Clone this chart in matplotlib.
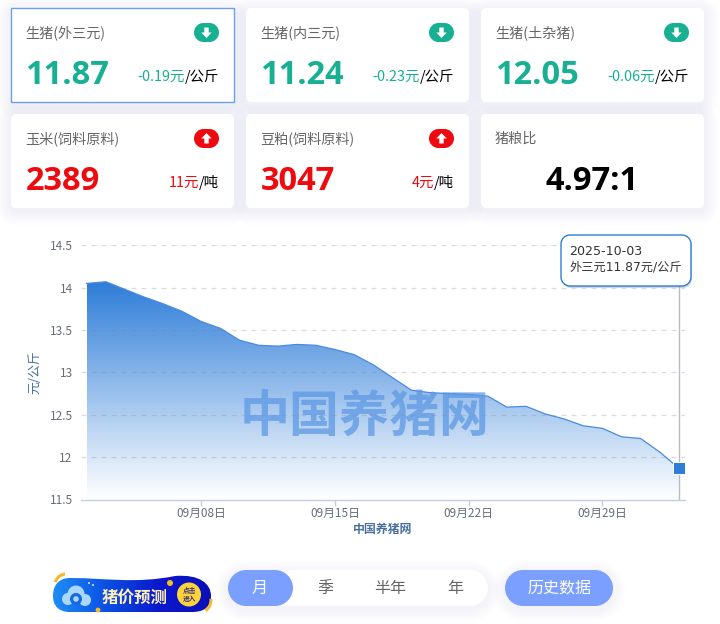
import matplotlib

matplotlib.use("Agg")
import matplotlib.pyplot as plt
import numpy as np
from matplotlib.colors import LinearSegmentedColormap
from matplotlib.patches import Arc, Circle, PathPatch, Polygon
from matplotlib.path import Path

plt.rcParams["font.family"] = ["Noto Sans CJK SC", "DejaVu Sans"]

W, H = 720, 624

# cards
card_titles = ["生猪(外三元)", "生猪(内三元)", "生猪(土杂猪)", "玉米(饲料原料)", "豆粕(饲料原料)", "猪粮比"]
card_values = ["11.87", "11.24", "12.05", "2389", "3047", "4.97:1"]
card_changes = ["-0.19元", "-0.23元", "-0.06元", "11元", "4元", ""]
card_units = ["/公斤", "/公斤", "/公斤", "/吨", "/吨", ""]
card_dirs = ["down", "down", "down", "up", "up", ""]

# chart
day_index = list(range(32))
prices = [
    14.05, 14.07, 13.98, 13.89, 13.81, 13.72, 13.60, 13.52,
    13.38, 13.32, 13.31, 13.33, 13.32, 13.27, 13.21, 13.09,
    12.94, 12.79, 12.76, 12.75, 12.74, 12.72, 12.59, 12.60,
    12.51, 12.45, 12.37, 12.34, 12.24, 12.22, 12.06, 11.87,
]
y_ticks = [11.5, 12, 12.5, 13, 13.5, 14, 14.5]
y_tick_labels = ["11.5", "12", "12.5", "13", "13.5", "14", "14.5"]
x_ticks = [6, 13, 20, 27]
x_tick_labels = ["09月08日", "09月15日", "09月22日", "09月29日"]

# bottom controls
period_labels = ["月", "季", "半年", "年"]
period_centers = [260, 325, 390, 455]

GREEN = "#17b092"
RED = "#ee0a0e"
BLUE = "#2e7dd9"
PILL = "#7b9fff"
GOLD = "#f5b92e"
DIGITS = ["Open Sans", "Noto Sans CJK SC"]
LATIN_FIRST = ["DejaVu Sans", "Noto Sans CJK SC"]


def rounded(ax, x0, y0, x1, y1, r, **kwargs):
    k = 0.5523 * r
    verts = [
        (x0 + r, y0), (x1 - r, y0),
        (x1 - r + k, y0), (x1, y0 + r - k), (x1, y0 + r),
        (x1, y1 - r),
        (x1, y1 - r + k), (x1 - r + k, y1), (x1 - r, y1),
        (x0 + r, y1),
        (x0 + r - k, y1), (x0, y1 - r + k), (x0, y1 - r),
        (x0, y0 + r),
        (x0, y0 + r - k), (x0 + r - k, y0), (x0 + r, y0),
    ]
    codes = [Path.MOVETO, Path.LINETO] + [Path.CURVE4] * 3 + [Path.LINETO] + [Path.CURVE4] * 3
    codes += [Path.LINETO] + [Path.CURVE4] * 3 + [Path.LINETO] + [Path.CURVE4] * 3
    patch = PathPatch(Path(verts, codes), **kwargs)
    ax.add_patch(patch)
    return patch


def soft_shadow(ax, x0, y0, x1, y1, r, spread=14, alpha=0.012):
    for s in range(spread, 0, -2):
        rounded(ax, x0 - s, y0 - s + 3, x1 + s, y1 + s + 3, r + s,
                facecolor="#7f90c0", edgecolor="none", alpha=alpha)


def draw_icon(ax, cx, cy, direction):
    color = GREEN if direction == "down" else RED
    rounded(ax, cx - 12.5, cy - 9.5, cx + 12.5, cy + 9.5, 9.5, facecolor=color, edgecolor="none")
    sign = 1 if direction == "down" else -1
    arrow = [
        (cx - 2.2, cy - 5 * sign), (cx + 2.2, cy - 5 * sign), (cx + 2.2, cy),
        (cx + 5.2, cy), (cx, cy + 5.5 * sign), (cx - 5.2, cy), (cx - 2.2, cy),
    ]
    ax.add_patch(Polygon(arrow, closed=True, facecolor="white", edgecolor="none"))


def draw_card(ax, renderer, x0, y0, idx):
    x1, y1 = x0 + 223, y0 + 94
    selected = idx == 0
    if selected:
        ax.add_patch(plt.Rectangle((x0, y0), 223, 94, facecolor="white", edgecolor="#6d9fe8", linewidth=1))
    else:
        rounded(ax, x0, y0, x1, y1, 5, facecolor="white", edgecolor="none")
    ax.text(x0 + 14, y0 + 25, card_titles[idx], fontsize=10.2, color="#666666", va="center", ha="left")

    direction = card_dirs[idx]
    if direction:
        draw_icon(ax, x0 + 195.5, y0 + 24.5, direction)
        color = GREEN if direction == "down" else RED
        ax.text(x0 + 14.5, y0 + 76.4, card_values[idx], fontsize=23.5, fontweight="bold",
                family=DIGITS, color=color, va="baseline", ha="left")
        unit = ax.text(x1 - 15, y0 + 69, card_units[idx], fontsize=10.4, color="black", va="center", ha="right")
        left = unit.get_window_extent(renderer).x0
        ax.text(left, y0 + 69, card_changes[idx], fontsize=10.4, color=color, va="center", ha="right")
    else:
        ax.text((x0 + x1) / 2, y0 + 76.4, card_values[idx], fontsize=23.5, fontweight="bold",
                family=DIGITS, color="black", va="baseline", ha="center")


def draw_banner(ax):
    x0, y0, x1, y1 = 53, 575, 211, 612
    cmap = LinearSegmentedColormap.from_list("banner", ["#1f8df5", "#0b50e4", "#0a18cc", "#0a0fb8"])
    img = ax.imshow(np.linspace(0, 1, 200).reshape(1, -1), extent=(x0, x1, y1, y0),
                    cmap=cmap, aspect="auto", zorder=3)
    outline = Path(
        [(53, 596), (53, 584), (60, 578), (70, 578),
         (105, 578), (135, 584), (175, 576),
         (200, 574), (211, 584), (211, 596),
         (211, 607), (204, 612), (192, 612),
         (150, 612), (110, 612), (70, 612),
         (59, 612), (53, 606), (53, 596)],
        [Path.MOVETO] + [Path.CURVE4] * 18,
    )
    clip = PathPatch(outline, facecolor="none", edgecolor="none", transform=ax.transData, zorder=3)
    ax.add_patch(clip)
    img.set_clip_path(clip)
    # cloud logo
    for cx, cy, r in [(68, 599, 6), (76, 594, 8.5), (85, 600, 6)]:
        ax.add_patch(Circle((cx, cy), r, facecolor="#a9d8ff", edgecolor="none", zorder=4))
    ax.add_patch(Circle((76, 599), 6, facecolor="#1668e6", edgecolor="none", zorder=5))
    ax.add_patch(Circle((76, 599), 2.8, facecolor="#a9d8ff", edgecolor="none", zorder=6))
    ax.add_patch(Circle((89, 583), 1, facecolor="#cfe8ff", edgecolor="none", zorder=4))
    ax.add_patch(Circle((93, 585), 1, facecolor="#cfe8ff", edgecolor="none", zorder=4))
    # gold accents
    ax.add_patch(Arc((66, 585), 22, 22, theta1=195, theta2=265, color=GOLD, linewidth=2.2, zorder=4))
    ax.add_patch(Arc((198, 600), 26, 26, theta1=-5, theta2=55, color=GOLD, linewidth=2.2, zorder=4))
    ax.add_patch(Circle((170, 583), 3, facecolor=GOLD, edgecolor="none", zorder=4))
    ax.add_patch(Circle((98, 610), 2.4, facecolor=GOLD, edgecolor="none", zorder=4))
    ax.text(134.8, 597.5, "猪价预测", fontsize=11.9, fontweight="bold", color="#fff0bd",
            ha="center", va="center", zorder=5)
    ax.add_patch(Circle((189, 594.5), 12, facecolor="#fbd33a", edgecolor="none", zorder=4))
    ax.text(189, 590.5, "点击", fontsize=4.8, fontweight="bold", color="#3a2a80", ha="center", va="center", zorder=5)
    ax.text(189, 598.5, "进入", fontsize=4.8, fontweight="bold", color="#3a2a80", ha="center", va="center", zorder=5)


fig = plt.figure(figsize=(W / 100, H / 100), dpi=100, facecolor="white")
renderer = fig.canvas.get_renderer()

# page layer, pixel coordinates
bg = fig.add_axes([0, 0, 1, 1], zorder=0)
bg.set_xlim(0, W)
bg.set_ylim(H, 0)
bg.axis("off")

card_x = [11, 246, 481]
card_y = [8, 114]
for row, y0 in enumerate(card_y):
    for col, x0 in enumerate(card_x):
        soft_shadow(bg, x0, y0, x0 + 223, y0 + 94, 5)
for row, y0 in enumerate(card_y):
    for col, x0 in enumerate(card_x):
        draw_card(bg, renderer, x0, y0, row * 3 + col)

# chart layer
left, right, top, bottom = 81, 685, 245.3, 499.5
ax = fig.add_axes([left / W, 1 - bottom / H, (right - left) / W, (bottom - top) / H], zorder=1)
ax.patch.set_alpha(0)
x_lo = -(86.7 - left) / 19.1
x_hi = 31 + (right - 678.8) / 19.1
ax.set_xlim(x_lo, x_hi)
ax.set_ylim(11.5, 14.5)

fill_cmap = LinearSegmentedColormap.from_list("area", [BLUE, "#ffffff"])
gradient = ax.imshow(np.linspace(0, 1, 256).reshape(-1, 1), extent=(0, 31, 11.5, max(prices)),
                     cmap=fill_cmap, aspect="auto", zorder=1)
outline = np.column_stack([day_index + [31, 0], prices + [11.5, 11.5]])
clip_poly = Polygon(outline, closed=True, transform=ax.transData, facecolor="none", edgecolor="none")
ax.add_patch(clip_poly)
gradient.set_clip_path(clip_poly)
ax.set_xlim(x_lo, x_hi)
ax.set_ylim(11.5, 14.5)

ax.plot(day_index, prices, color="#4a8ae0", linewidth=0.9, zorder=3)
for val in y_ticks[1:]:
    ax.axhline(val, color="#80808e", alpha=0.28, linewidth=0.9, dashes=(4, 4), zorder=2)
ax.axvline(day_index[-1], color="#b8bcc4", linewidth=1, zorder=2)
ax.plot(day_index[-1], prices[-1], marker="s", markersize=9, color=BLUE,
        markeredgecolor="white", markeredgewidth=0.7, zorder=5, clip_on=False)

for side in ["top", "right", "left"]:
    ax.spines[side].set_visible(False)
ax.spines["bottom"].set_color("#c0d0e0")
ax.spines["bottom"].set_linewidth(1)
ax.set_yticks(y_ticks, y_tick_labels)
ax.set_xticks(x_ticks, x_tick_labels)
ax.tick_params(axis="y", length=0, pad=6, labelsize=8.5, labelcolor="#666c7a")
ax.tick_params(axis="x", length=4, width=1, color="#c0d0e0", pad=1.5, labelsize=8.5, labelcolor="#666c7a")

# overlay layer, pixel coordinates
top_ax = fig.add_axes([0, 0, 1, 1], zorder=2)
top_ax.set_xlim(0, W)
top_ax.set_ylim(H, 0)
top_ax.axis("off")

top_ax.text(365, 418, "中国养猪网", fontsize=36, fontweight="bold", color="#5b97e3",
            alpha=0.72, ha="center", va="center")
top_ax.text(34.5, 372.5, "元/公斤", fontsize=9.3, color="#4a6f9f", rotation=90, ha="center", va="center")
top_ax.text(383, 529.5, "中国养猪网", fontsize=8.6, fontweight="bold", color="#4a6f9f", ha="center", va="center")

# tooltip
rounded(top_ax, 562, 237, 692, 288, 9, facecolor="#888888", edgecolor="none", alpha=0.35)
rounded(top_ax, 561, 235, 691, 286, 9, facecolor="white", edgecolor=BLUE, linewidth=1)
top_ax.text(569, 251.5, "2025-10-03", fontsize=9.1, family=LATIN_FIRST, color="#333333", ha="left", va="center")
top_ax.text(569, 267.5, "外三元11.87元/公斤", fontsize=8.8, family=LATIN_FIRST, color="#333333", ha="left", va="center")

# bottom controls
draw_banner(top_ax)
soft_shadow(top_ax, 228, 570, 488, 606, 18, spread=12, alpha=0.012)
soft_shadow(top_ax, 505, 570, 613, 606, 18, spread=12, alpha=0.012)
rounded(top_ax, 228, 570, 488, 606, 18, facecolor="white", edgecolor="none")
rounded(top_ax, 228, 570, 293, 606, 18, facecolor=PILL, edgecolor="none")
for i, (label, cx) in enumerate(zip(period_labels, period_centers)):
    top_ax.text(cx, 588, label, fontsize=11.5, color="white" if i == 0 else "#666666", ha="center", va="center")
rounded(top_ax, 505, 570, 613, 606, 18, facecolor=PILL, edgecolor="none")
top_ax.text(559, 588, "历史数据", fontsize=11.5, color="white", ha="center", va="center")

fig.savefig("out.png", dpi=100)
plt.close(fig)
